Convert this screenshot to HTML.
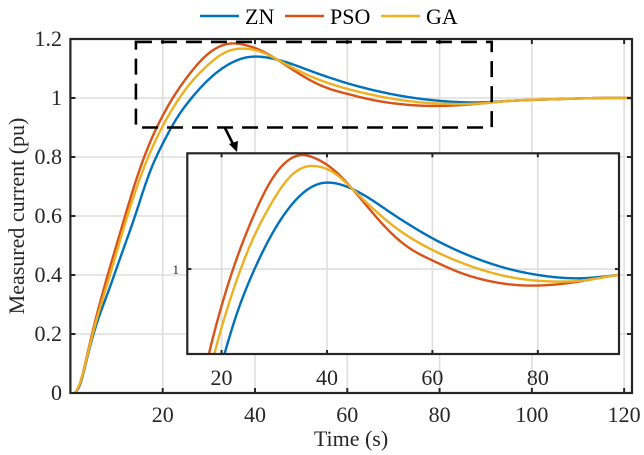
<!DOCTYPE html>
<html><head><meta charset="utf-8"><style>
html,body{margin:0;padding:0;background:#fff;overflow:hidden;width:644px;height:455px;}
svg{display:block;font-family:"Liberation Serif",serif;}
</style></head><body>
<svg id="chart" width="644" height="455" viewBox="0 0 644 455" xmlns="http://www.w3.org/2000/svg"></svg>
<script>
const timeS = [1, 2, 3.5, 5, 8, 11, 14, 17, 20, 23, 26, 29, 32, 35, 38, 41, 44, 48, 52, 56, 60, 65, 70, 76, 82, 88, 95, 105, 115, 121.6];
const znValues  = [0, .025, .11, .20, .335, .467, .60, .74, .845, .93, .995, 1.048, 1.09, 1.12, 1.137, 1.14, 1.133, 1.115, 1.092, 1.07, 1.05, 1.029, 1.012, .997, .988, .985, .99, .996, 1.0, 1.0];
const psoValues = [0, .03, .12, .22, .395, .555, .71, .84, .94, 1.02, 1.085, 1.138, 1.172, 1.185, 1.179, 1.163, 1.138, 1.098, 1.06, 1.032, 1.014, .995, .982, .974, .974, .98, .99, .996, 1.0, 1.0];
const gaValues  = [0, .03, .115, .21, .37, .53, .68, .805, .905, .985, 1.05, 1.10, 1.14, 1.163, 1.167, 1.158, 1.137, 1.104, 1.074, 1.05, 1.031, 1.012, .997, .985, .98, .981, .99, .996, 1.0, 1.0];
const seriesNames = ["ZN", "PSO", "GA"];
const xTicks = [20, 40, 60, 80, 100, 120];
const yTicks = [0, 0.2, 0.4, 0.6, 0.8, 1, 1.2];
const yTickLabels = ["0", "0.2", "0.4", "0.6", "0.8", "1", "1.2"];
const insetXTicks = [20, 40, 60, 80];
const insetYTicks = [1];
const zoomRegion = [14.2, 91.3, 0.90, 1.19];

const colors = ["#0072BD", "#D95319", "#EDB120"];
const NS = "http://www.w3.org/2000/svg";
const svg = document.getElementById("chart");
function el(tag, attrs, parent) {
  const e = document.createElementNS(NS, tag);
  for (const k in attrs) e.setAttribute(k, attrs[k]);
  (parent || svg).appendChild(e);
  return e;
}
const M = {x0: 70.4, x1: 632, y0: 393, y1: 39, t0: 0, t1: 121.7, v0: 0, v1: 1.2};
const xS = t => M.x0 + (t - M.t0) / (M.t1 - M.t0) * (M.x1 - M.x0);
const yS = v => M.y0 - (v - M.v0) / (M.v1 - M.v0) * (M.y0 - M.y1);
const I = {x0: 187.3, x1: 619, y0: 354, y1: 153.3, t0: 13.5, t1: 95.4, v0: 0.862, v1: 1.188};
const ixS = t => I.x0 + (t - I.t0) / (I.t1 - I.t0) * (I.x1 - I.x0);
const iyS = v => I.y0 - (v - I.v0) / (I.v1 - I.v0) * (I.y0 - I.y1);

function spline(xs, ys) {
  const n = xs.length, h = [], a = [], l = [1], mu = [0], z = [0], c = new Array(n).fill(0), b = [], d = [];
  for (let i = 0; i < n - 1; i++) h.push(xs[i+1] - xs[i]);
  for (let i = 1; i < n - 1; i++) a[i] = 3/h[i]*(ys[i+1]-ys[i]) - 3/h[i-1]*(ys[i]-ys[i-1]);
  for (let i = 1; i < n - 1; i++) {
    l[i] = 2*(xs[i+1]-xs[i-1]) - h[i-1]*mu[i-1];
    mu[i] = h[i]/l[i];
    z[i] = (a[i] - h[i-1]*z[i-1])/l[i];
  }
  for (let j = n - 2; j >= 0; j--) {
    c[j] = z[j] - mu[j]*c[j+1];
    b[j] = (ys[j+1]-ys[j])/h[j] - h[j]*(c[j+1]+2*c[j])/3;
    d[j] = (c[j+1]-c[j])/(3*h[j]);
  }
  return function (x) {
    let i = 0; while (i < n - 2 && x > xs[i+1]) i++;
    const dx = x - xs[i];
    return ys[i] + b[i]*dx + c[i]*dx*dx + d[i]*dx*dx*dx;
  };
}
function curvePath(vals, xf, yf, tA, tB) {
  const f = spline(timeS, vals);
  let d = "";
  const a = Math.max(tA, timeS[0]), b = Math.min(tB, timeS[timeS.length-1]);
  for (let t = a; t <= b + 1e-9; t += 0.25) {
    d += (d ? "L" : "M") + xf(t).toFixed(2) + "," + yf(Math.max(0, f(t))).toFixed(2);
  }
  return d;
}
const allSeries = [znValues, psoValues, gaValues];

const grid = el("g", { });
xTicks.forEach(t => {
  const g = el("line", {x1: xS(t), x2: xS(t), y1: M.y1, y2: M.y0, stroke: "#dedede", "stroke-width": 1.6}, grid);
  
  
});
yTicks.forEach(v => {
  const g = el("line", {x1: M.x0, x2: M.x1, y1: yS(v), y2: yS(v), stroke: "#dedede", "stroke-width": 1.6}, grid);
  
  
});
const mc = el("clipPath", {id: "mainClip"});
el("rect", {x: M.x0, y: M.y1, width: M.x1 - M.x0, height: M.y0 - M.y1}, mc);
const mainSeries = el("g", {"clip-path": "url(#mainClip)"});


allSeries.forEach((vals, i) => {
  const p = el("path", {d: curvePath(vals, xS, yS, 0, 122), fill: "none", stroke: colors[i], "stroke-width": 2.4, "stroke-linejoin": "round"}, mainSeries);
  
  
});
const box = el("rect", {x: M.x0, y: M.y1, width: M.x1 - M.x0, height: M.y0 - M.y1, fill: "none", stroke: "#262626", "stroke-width": 2.2});


xTicks.forEach(t => {
  el("line", {x1: xS(t), x2: xS(t), y1: M.y0, y2: M.y0 - 5, stroke: "#262626", "stroke-width": 2});
  el("line", {x1: xS(t), x2: xS(t), y1: M.y1, y2: M.y1 + 5, stroke: "#262626", "stroke-width": 2});
  const tx = el("text", {x: xS(t), y: 422, "text-anchor": "middle", "font-size": 22, fill: "#262626"});
  tx.textContent = String(t);
  
  
});
yTicks.forEach((v, i) => {
  el("line", {x1: M.x0, x2: M.x0 + 5, y1: yS(v), y2: yS(v), stroke: "#262626", "stroke-width": 2});
  el("line", {x1: M.x1, x2: M.x1 - 5, y1: yS(v), y2: yS(v), stroke: "#262626", "stroke-width": 2});
  const tx = el("text", {x: 62, y: yS(v) + 7, "text-anchor": "end", "font-size": 22, fill: "#262626"});
  tx.textContent = yTickLabels[i];
  
  
});
const xt = el("text", {x: 351, y: 446, "text-anchor": "middle", "font-size": 22, fill: "#262626"});
xt.textContent = "Time (s)";


const yt = el("text", {x: 0, y: 0, "text-anchor": "middle", "font-size": 22, fill: "#262626", transform: "translate(24,216) rotate(-90)"});
yt.textContent = "Measured current (pu)";



const zr = el("rect", {x: xS(zoomRegion[0]), y: yS(zoomRegion[3]), width: xS(zoomRegion[1]) - xS(zoomRegion[0]), height: yS(zoomRegion[2]) - yS(zoomRegion[3]), fill: "none", stroke: "#000", "stroke-width": 2.6, "stroke-dasharray": "16 9"});


const ar = el("g", {});


el("line", {x1: 225, y1: 128, x2: 234, y2: 146, stroke: "#000", "stroke-width": 2.6}, ar);
el("polygon", {points: "237,152 229,144 238,141", fill: "#000"}, ar);

const inset = el("g", {});


el("rect", {x: I.x0, y: I.y1, width: I.x1 - I.x0, height: I.y0 - I.y1, fill: "#fff"}, inset);
insetXTicks.forEach(t => {
  el("line", {x1: ixS(t), x2: ixS(t), y1: I.y1, y2: I.y0, stroke: "#dedede", "stroke-width": 1.6}, inset);
});
insetYTicks.forEach(v => {
  el("line", {x1: I.x0, x2: I.x1, y1: iyS(v), y2: iyS(v), stroke: "#dedede", "stroke-width": 1.6}, inset);
});
const ic = el("clipPath", {id: "insetClip"});
el("rect", {x: I.x0, y: I.y1, width: I.x1 - I.x0, height: I.y0 - I.y1}, ic);
const insetSeries = el("g", {"clip-path": "url(#insetClip)"}, inset);
allSeries.forEach((vals, i) => {
  const p = el("path", {d: curvePath(vals, ixS, iyS, I.t0 - 1, I.t1 + 1), fill: "none", stroke: colors[i], "stroke-width": 2.4, "stroke-linejoin": "round"}, insetSeries);
  
  
});
el("rect", {x: I.x0, y: I.y1, width: I.x1 - I.x0, height: I.y0 - I.y1, fill: "none", stroke: "#262626", "stroke-width": 2.2}, inset);
insetXTicks.forEach(t => {
  el("line", {x1: ixS(t), x2: ixS(t), y1: I.y0, y2: I.y0 - 4, stroke: "#262626", "stroke-width": 2}, inset);
  el("line", {x1: ixS(t), x2: ixS(t), y1: I.y1, y2: I.y1 + 4, stroke: "#262626", "stroke-width": 2}, inset);
  const tx = el("text", {x: ixS(t), y: 385, "text-anchor": "middle", "font-size": 22, fill: "#262626"}, inset);
  tx.textContent = String(t);
  
  
});
insetYTicks.forEach(v => {
  el("line", {x1: I.x0, x2: I.x0 + 4, y1: iyS(v), y2: iyS(v), stroke: "#262626", "stroke-width": 2}, inset);
  el("line", {x1: I.x1, x2: I.x1 - 4, y1: iyS(v), y2: iyS(v), stroke: "#262626", "stroke-width": 2}, inset);
  const tx = el("text", {x: 179, y: iyS(v) + 5, "text-anchor": "end", "font-size": 13, fill: "#262626"}, inset);
  tx.textContent = String(v);
  
  
});

const legend = el("g", {});


const legX = [200, 285, 381];
seriesNames.forEach((name, i) => {
  const g = el("g", {}, legend);
  
  
  el("line", {x1: legX[i], x2: legX[i] + 39, y1: 16, y2: 16, stroke: colors[i], "stroke-width": 2.4}, g);
  const tx = el("text", {x: legX[i] + 45, y: 24, "font-size": 22, fill: "#000"}, g);
  tx.textContent = name;
});
</script>
</body></html>
